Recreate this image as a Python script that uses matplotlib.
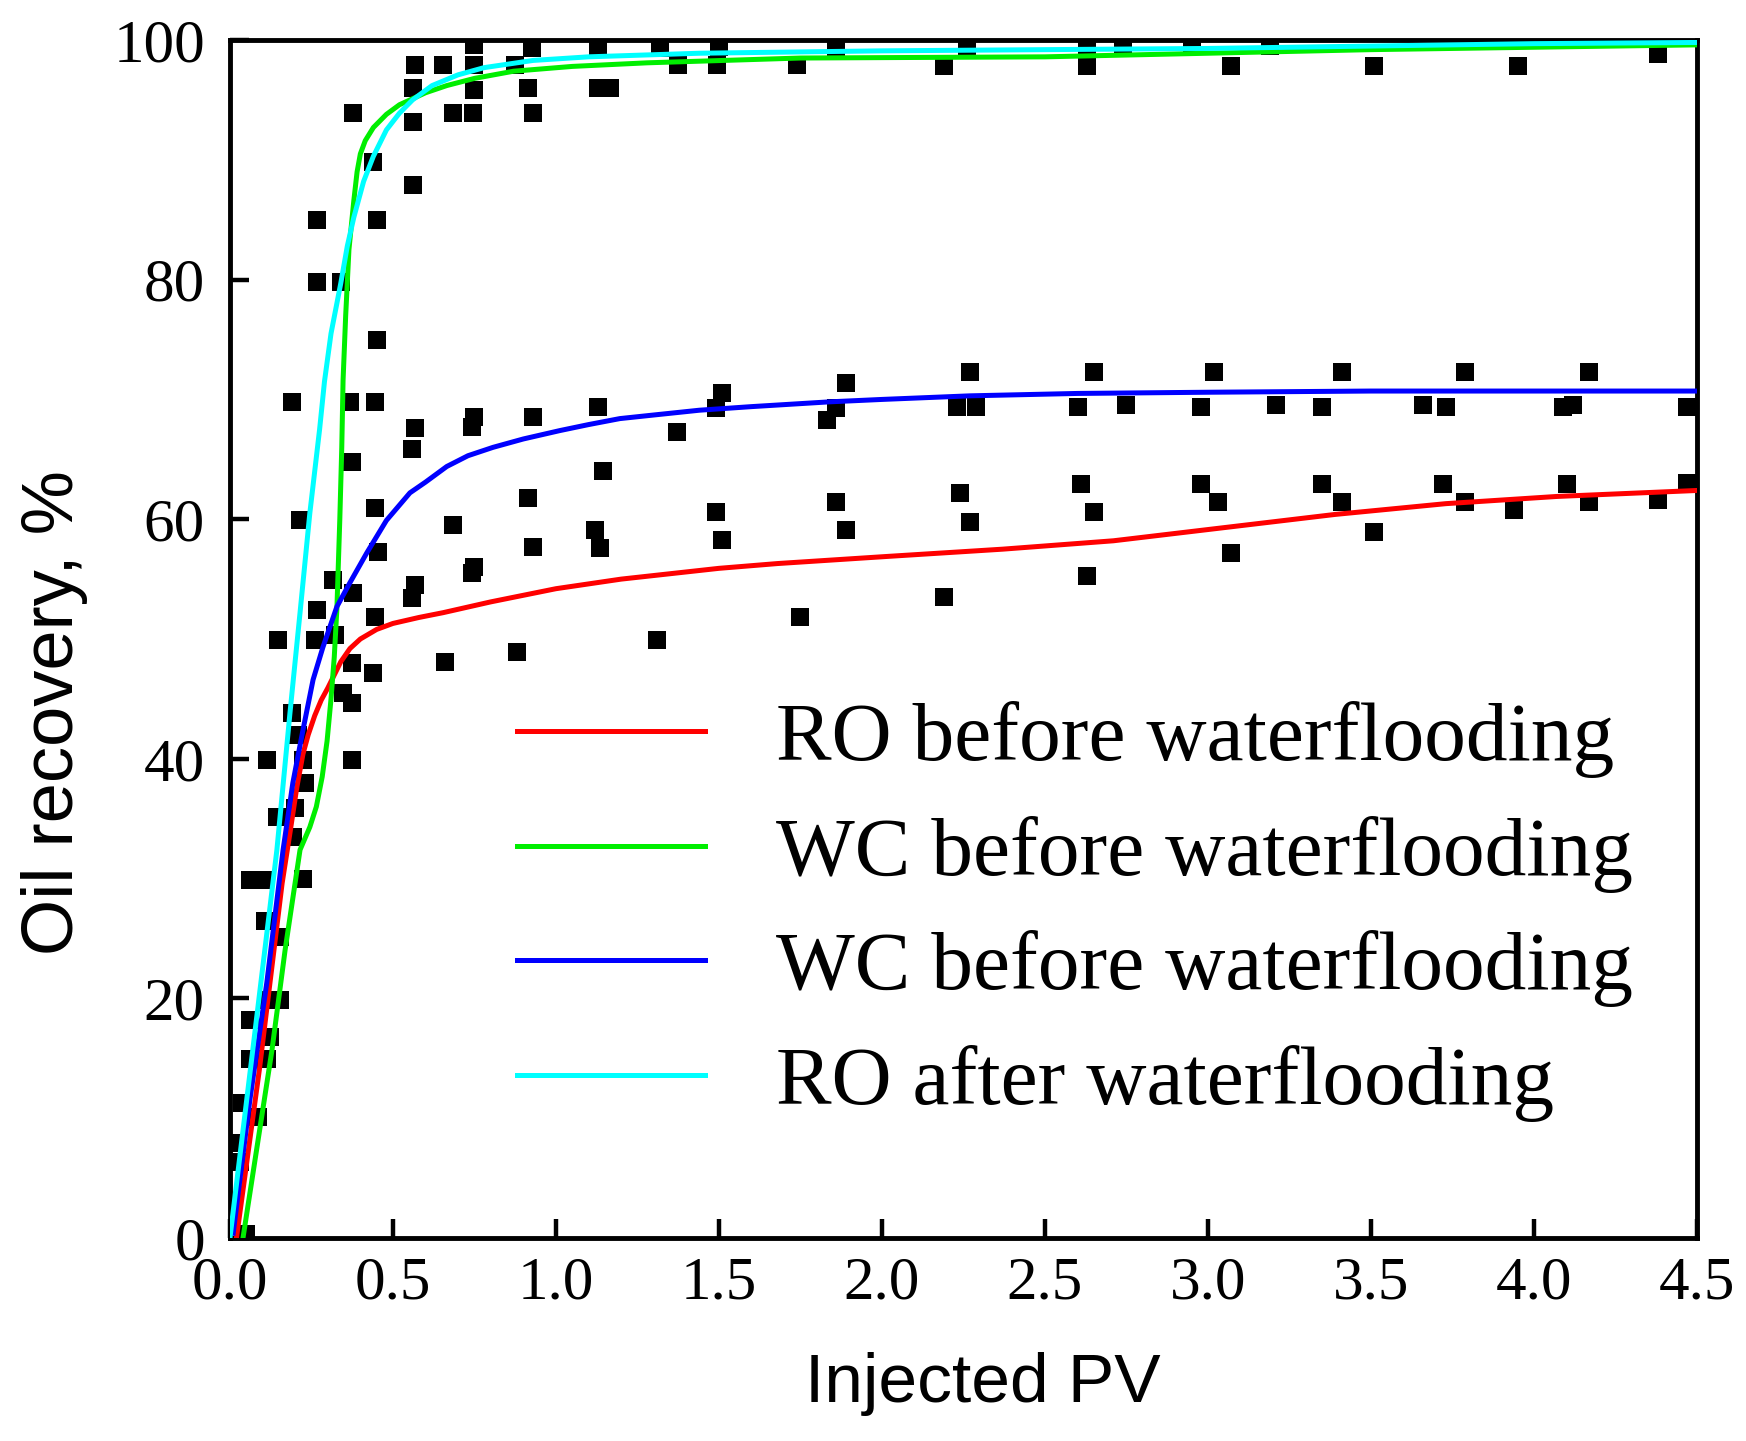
import matplotlib
matplotlib.use("Agg")
import matplotlib.pyplot as plt

top_pv = [0.567, 0.654, 0.75, 0.75, 0.75, 0.56, 0.56, 0.684, 0.745, 0.874, 0.926, 0.914, 0.93,
          1.13, 1.13, 1.166, 1.32, 1.374, 1.50, 1.494, 1.74, 1.86, 2.19, 2.26, 2.63, 2.63, 2.74,
          2.95, 3.07, 3.19, 3.51, 3.95, 4.38, 0.378, 0.44, 0.56, 0.267, 0.45, 0.267, 0.34, 0.45]
top_rec = [97.9, 97.9, 99.6, 97.9, 95.8, 96.0, 93.2, 93.9, 93.9, 97.9, 99.3, 96.0, 93.9,
           99.3, 96.0, 96.0, 99.3, 97.9, 99.4, 97.9, 97.9, 99.4, 97.8, 99.4, 97.8, 99.4, 99.6,
           99.5, 97.8, 99.5, 97.8, 97.8, 98.8, 93.9, 89.8, 87.9, 85.0, 85.0, 79.8, 79.8, 75.0]

mid_pv = [0.19, 0.368, 0.445, 0.567, 0.558, 0.75, 0.742, 0.93, 1.13, 1.37, 0.374, 1.145, 1.51,
          1.49, 1.89, 1.86, 1.83, 2.27, 2.23, 2.29, 2.65, 2.60, 2.75, 2.98, 3.02, 3.21, 3.35,
          3.41, 3.66, 3.73, 3.79, 4.09, 4.12, 4.17, 4.47]
mid_rec = [69.8, 69.8, 69.8, 67.6, 65.9, 68.5, 67.7, 68.5, 69.4, 67.3, 64.8, 64.0, 70.5,
           69.3, 71.4, 69.3, 68.3, 72.3, 69.4, 69.4, 72.3, 69.4, 69.5, 69.4, 72.3, 69.5, 69.4,
           72.3, 69.5, 69.4, 72.3, 69.4, 69.5, 72.3, 69.4]

low_pv = [0.915, 0.684, 1.12, 0.93, 1.135, 0.75, 0.742, 0.66, 0.88, 1.31, 1.49, 1.51, 1.86,
          1.89, 2.24, 2.27, 2.61, 2.65, 2.98, 3.03, 3.35, 3.41, 3.72, 3.79, 3.94, 4.10, 4.17,
          4.38, 4.47, 3.51, 3.07, 2.63, 2.19, 1.75]
low_rec = [61.8, 59.5, 59.1, 57.7, 57.6, 56.0, 55.5, 48.1, 48.9, 49.9, 60.6, 58.3, 61.4,
           59.1, 62.2, 59.8, 62.9, 60.6, 62.9, 61.4, 62.9, 61.4, 62.9, 61.4, 60.8, 62.9, 61.4,
           61.6, 63.0, 58.9, 57.2, 55.3, 53.5, 51.8]

early_pv = [0.445, 0.215, 0.455, 0.567, 0.558, 0.317, 0.378, 0.267, 0.445, 0.147, 0.261, 0.322,
            0.374, 0.439, 0.347, 0.374, 0.19, 0.21, 0.113, 0.374, 0.224, 0.23, 0.2, 0.144,
            0.193, 0.06, 0.10, 0.224, 0.107, 0.153, 0.113, 0.153, 0.061, 0.123, 0.113, 0.06,
            0.037, 0.086, 0.02, 0.03, 0.05]
early_rec = [60.9, 59.9, 57.3, 54.5, 53.4, 54.9, 53.8, 52.4, 51.8, 49.9, 49.9, 50.3,
             48.0, 47.2, 45.5, 44.7, 43.8, 42.0, 39.9, 39.9, 39.9, 38.0, 35.9, 35.1,
             33.5, 29.9, 29.9, 30.0, 26.5, 25.1, 19.9, 19.9, 18.2, 16.8, 14.9, 14.9,
             11.3, 10.1, 7.9, 6.3, 0.3]

# fitted curves, points
red_pv = [0.02, 0.09, 0.16, 0.184, 0.205, 0.224, 0.24, 0.26, 0.28, 0.30, 0.32, 0.34, 0.368,
          0.40, 0.45, 0.50, 0.58, 0.654, 0.80, 1.0, 1.2, 1.5, 1.68, 2.02, 2.37, 2.71, 3.05,
          3.39, 3.73, 4.07, 4.5]
red_rec = [0.0, 14.0, 29.6, 33.8, 37.6, 40.4, 42.0, 43.6, 44.9, 45.9, 47.0, 48.1, 49.2,
           50.0, 50.8, 51.3, 51.8, 52.2, 53.1, 54.2, 55.0, 55.9, 56.3, 56.9, 57.5, 58.2, 59.3,
           60.4, 61.3, 61.9, 62.4]

green_pv = [0.04, 0.129, 0.169, 0.215, 0.245, 0.265, 0.283, 0.298, 0.31, 0.32, 0.328, 0.337,
            0.343, 0.347, 0.355, 0.365, 0.38, 0.39, 0.40, 0.415, 0.44, 0.48, 0.52, 0.60, 0.665,
            0.75, 0.87, 1.05, 1.28, 1.75, 2.5, 3.0, 3.5, 4.0, 4.5]
green_rec = [0.0, 15.7, 24.0, 32.4, 34.3, 36.0, 38.5, 41.5, 45.0, 48.5, 52.5, 60.0,
             66.0, 71.6, 77.0, 82.5, 86.6, 89.0, 90.5, 91.6, 92.7, 93.8, 94.6, 95.6, 96.2,
             96.8, 97.4, 97.8, 98.1, 98.5, 98.6, 98.9, 99.2, 99.4, 99.6]

blue_pv = [0.01, 0.061, 0.113, 0.163, 0.193, 0.224, 0.255, 0.285, 0.328, 0.368, 0.42, 0.48,
           0.552, 0.60, 0.665, 0.73, 0.807, 0.90, 1.012, 1.10, 1.196, 1.30, 1.44, 1.60, 1.84,
           2.0, 2.27, 2.6, 3.0, 3.5, 4.0, 4.5]
blue_rec = [0.4, 11.5, 21.3, 32.4, 38.0, 42.4, 46.6, 49.3, 52.7, 54.7, 57.2, 59.9,
            62.2, 63.1, 64.4, 65.3, 66.0, 66.7, 67.4, 67.9, 68.4, 68.7, 69.1, 69.4, 69.8,
            70.0, 70.3, 70.5, 70.6, 70.7, 70.7, 70.7]

cyan_pv = [0.0, 0.07, 0.144, 0.184, 0.215, 0.245, 0.275, 0.29, 0.31, 0.34, 0.36, 0.38, 0.41,
           0.44, 0.48, 0.52, 0.56, 0.62, 0.70, 0.78, 0.93, 1.1, 1.44, 2.0, 2.5, 3.0, 3.5, 4.0,
           4.5]
cyan_rec = [0.0, 15.7, 32.4, 43.8, 52.2, 60.5, 67.5, 71.5, 75.5, 79.7, 82.8, 85.2, 88.2,
            90.3, 92.5, 93.9, 95.0, 96.2, 97.1, 97.7, 98.3, 98.6, 98.9, 99.1, 99.2, 99.3, 99.5,
            99.7, 99.8]

labels = ["RO before waterflooding", "WC before waterflooding",
          "WC before waterflooding", "RO after waterflooding"]

x_ticks = [0.0, 0.5, 1.0, 1.5, 2.0, 2.5, 3.0, 3.5, 4.0, 4.5]
y_ticks = [0, 20, 40, 60, 80, 100]

SERIF = "Liberation Serif"
SANS = "Liberation Sans"

fig = plt.figure(figsize=(17.46, 14.41), dpi=100)
ax = fig.add_axes([0.1317, 0.1409, 0.8402, 0.8313])

for pv, rec in [(top_pv, top_rec), (mid_pv, mid_rec), (low_pv, low_rec), (early_pv, early_rec)]:
    ax.scatter(pv, rec, marker="s", s=150, color="black", linewidths=0, zorder=2)

line_kw = dict(lw=3.6, zorder=3, solid_joinstyle="round")
ax.plot(red_pv, red_rec, color="#ff0000", label=labels[0], **line_kw)
ax.plot(green_pv, green_rec, color="#00ee00", label=labels[1], **line_kw)
ax.plot(blue_pv, blue_rec, color="#0000ff", label=labels[2], **line_kw)
ax.plot(cyan_pv, cyan_rec, color="#00ffff", label=labels[3], **line_kw)

ax.set_xlim(0, 4.5)
ax.set_ylim(0, 100)
ax.set_xticks(x_ticks)
ax.set_xticklabels([f"{t:.1f}" for t in x_ticks])
ax.set_yticks(y_ticks)
ax.set_yticklabels([str(t) for t in y_ticks])

ax.tick_params(direction="in", length=14, width=3.2, top=False, right=False)
ax.tick_params(axis="x", pad=13)
ax.tick_params(axis="y", pad=18)
for lab in ax.get_xticklabels() + ax.get_yticklabels():
    lab.set_fontfamily(SERIF)
    lab.set_fontsize(44)
for sp in ax.spines.values():
    sp.set_linewidth(3.5)

ax.set_xlabel("Injected PV", fontfamily=SANS, fontsize=50)
ax.set_ylabel("Oil recovery, %", fontfamily=SANS, fontsize=52)
ax.xaxis.set_label_coords(0.513, -0.095)
ax.yaxis.set_label_coords(-0.097, 0.439)

ax.legend(loc="upper left", bbox_to_anchor=(0.196, 0.448), frameon=False,
          prop={"family": SERIF, "size": 60}, handlelength=2.25, handletextpad=0.85,
          labelspacing=0.45, borderpad=0, borderaxespad=0)

fig.savefig("out.png", dpi=100)
